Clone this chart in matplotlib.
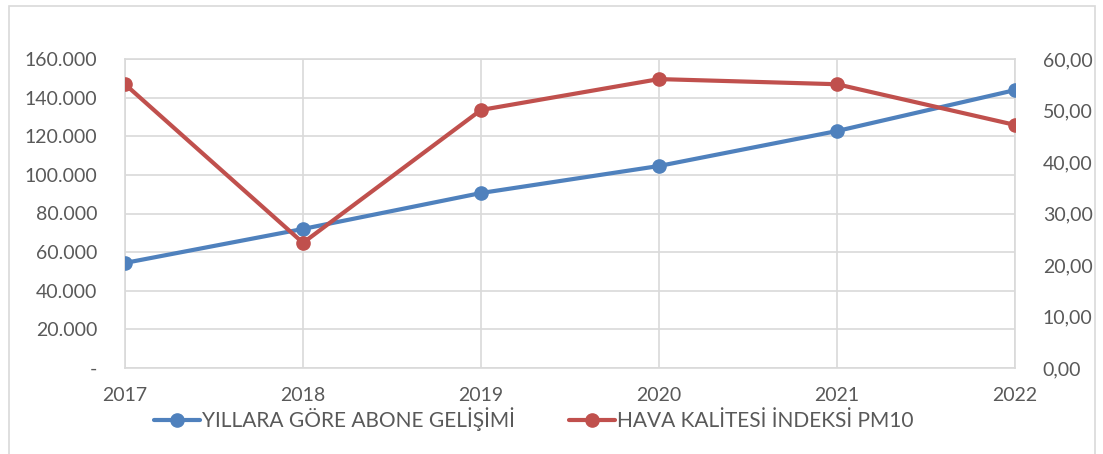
import matplotlib.pyplot as plt
from matplotlib.patches import Rectangle
from matplotlib.ticker import FuncFormatter

years = ['2017', '2018', '2019', '2020', '2021', '2022']
abone = [54400, 72000, 90600, 104600, 122700, 143900]
pm10 = [55.1, 24.3, 50.1, 56.1, 55.1, 47.2]

blue = '#4F81BD'
red = '#C0504D'
grid_c = '#D9D9D9'
text_c = '#595959'

plt.rcParams['font.family'] = ['Lato', 'DejaVu Sans']

fig = plt.figure(figsize=(11.03, 4.54), dpi=100)
fig.patches.append(Rectangle((9 / 1103, -0.05), 1086 / 1103, 1.05 - 6 / 454,
                             transform=fig.transFigure, fill=False,
                             edgecolor=grid_c, linewidth=1.2))

ax = fig.add_axes([125 / 1103, 1 - 368 / 454, 890 / 1103, 309 / 454])
x = list(range(len(years)))
l1, = ax.plot(x, abone, color=blue, lw=3, marker='o', ms=9.5, zorder=3,
              solid_capstyle='round')
ax.set_ylim(0, 160000)
ax.set_xlim(0, len(years) - 1)
ax.set_yticks(range(0, 160001, 20000))
ax.yaxis.set_major_formatter(FuncFormatter(
    lambda v, p: '-' if v == 0 else f'{int(v):,}'.replace(',', '.')))
ax.set_xticks(x)
ax.set_xticklabels(years)
ax.grid(True, color=grid_c, lw=1.2)
ax.set_axisbelow(True)
for s in ax.spines.values():
    s.set_color(grid_c)
    s.set_linewidth(1.2)
ax.tick_params(axis='both', length=0, colors=text_c, labelsize=14)
ax.tick_params(axis='x', pad=14)
ax.tick_params(axis='y', pad=20)

ax2 = ax.twinx()
l2, = ax2.plot(x, pm10, color=red, lw=3, marker='o', ms=9.5, zorder=3,
               solid_capstyle='round')
ax2.set_ylim(0, 60)
ax2.set_yticks(range(0, 61, 10))
ax2.yaxis.set_major_formatter(FuncFormatter(lambda v, p: f'{v:.2f}'.replace('.', ',')))
for s in ax2.spines.values():
    s.set_visible(False)
ax2.tick_params(axis='y', length=0, colors=text_c, labelsize=14, pad=20)

fig.legend([l1, l2], ['YILLARA GÖRE ABONE GELİŞİMİ', 'HAVA KALİTESİ İNDEKSİ PM10'],
           loc='center', bbox_to_anchor=(534 / 1103, 1 - 419 / 454), ncol=2,
           frameon=False, fontsize=15, labelcolor=text_c, handlelength=2.2,
           handletextpad=0.1, columnspacing=2.6, borderpad=0)

fig.savefig('out.png', dpi=100)
